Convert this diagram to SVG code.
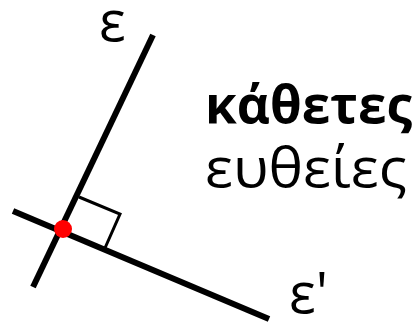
<svg xmlns="http://www.w3.org/2000/svg" width="416" height="324" viewBox="0 0 416 324">
<style>
.ln{stroke:#000;stroke-width:6;fill:none}
.sq{stroke:#000;stroke-width:3;fill:none}
.t{font-family:"Open Sans","Noto Sans",sans-serif;fill:#000}
</style>
<rect width="416" height="324" fill="#fff"/>
<g id="connectors">
<line id="line-e" class="ln" x1="33" y1="287" x2="153" y2="35"/>
<line id="line-e2" class="ln" x1="13" y1="211" x2="269" y2="319"/>
</g>
<g id="right-angle"><polyline class="sq" points="79,197 120,214 105,248"/></g>
<g id="point"><circle cx="63" cy="229" r="9" fill="#ff0000"/></g>
<g id="label-e"><text class="t" x="99" y="41" font-size="56">ε</text></g>
<g id="label-e2"><text class="t" x="289" y="313" font-size="56">ε'</text></g>
<g id="title"><text class="t" x="205" y="123" font-size="52" font-weight="bold" textLength="207" lengthAdjust="spacingAndGlyphs">κάθετες</text>
<text class="t" x="205" y="187" font-size="55" textLength="202" lengthAdjust="spacingAndGlyphs">ευθείες</text></g>
</svg>
